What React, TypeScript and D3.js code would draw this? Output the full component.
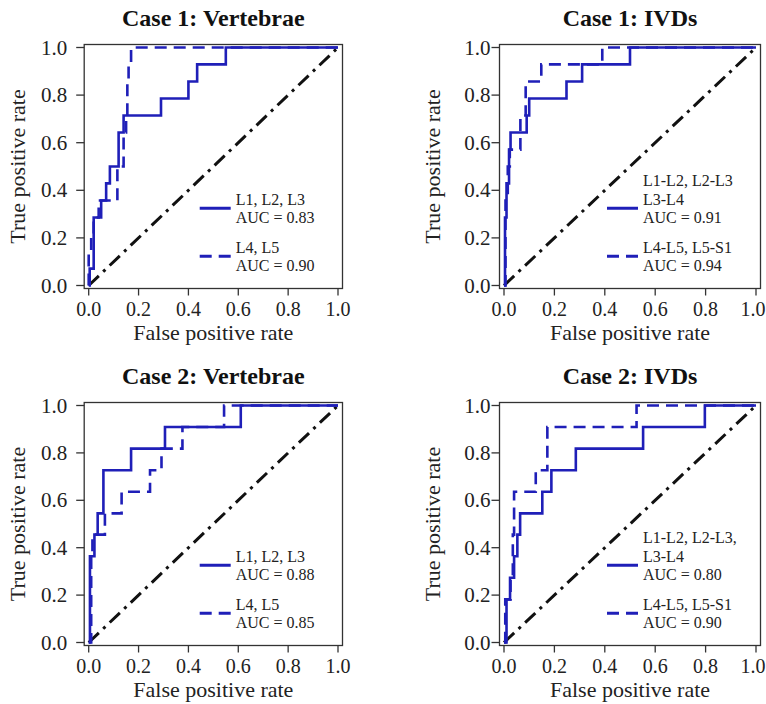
import * as d3 from "d3";

// ROC points [false positive rate, true positive rate]
const c1VertSolid = [[0, 0], [0.004, 0.071], [0.02, 0.286], [0.05, 0.357], [0.07, 0.429], [0.085, 0.5], [0.12, 0.643], [0.14, 0.714], [0.29, 0.786], [0.4, 0.857], [0.435, 0.929], [0.55, 1], [1, 1]];
const c1VertDashed = [[0, 0], [0, 0.143], [0.01, 0.214], [0.02, 0.286], [0.04, 0.357], [0.115, 0.5], [0.14, 0.643], [0.15, 0.714], [0.155, 0.857], [0.16, 0.929], [0.17, 1], [1, 1]];
const c1IvdSolid = [[0, 0], [0.004, 0.286], [0.01, 0.429], [0.02, 0.571], [0.026, 0.643], [0.09, 0.714], [0.1, 0.786], [0.248, 0.857], [0.31, 0.929], [0.5, 1], [1, 1]];
const c1IvdDashed = [[0, 0], [0.006, 0.357], [0.015, 0.5], [0.023, 0.571], [0.065, 0.714], [0.086, 0.857], [0.148, 0.929], [0.39, 1], [1, 1]];
const c2VertSolid = [[0, 0], [0.005, 0.364], [0.023, 0.455], [0.036, 0.545], [0.059, 0.727], [0.17, 0.818], [0.306, 0.909], [0.61, 1], [1, 1]];
const c2VertDashed = [[0, 0], [0.01, 0.364], [0.015, 0.455], [0.065, 0.545], [0.132, 0.636], [0.246, 0.727], [0.292, 0.818], [0.376, 0.909], [0.543, 1], [1, 1]];
const c2IvdSolid = [[0, 0], [0.01, 0.182], [0.024, 0.273], [0.04, 0.364], [0.053, 0.455], [0.064, 0.545], [0.152, 0.636], [0.188, 0.727], [0.285, 0.818], [0.552, 0.909], [0.797, 1], [1, 1]];
const c2IvdDashed = [[0, 0], [0.005, 0.182], [0.026, 0.273], [0.035, 0.455], [0.04, 0.636], [0.126, 0.727], [0.172, 0.909], [0.526, 1], [1, 1]];

const titles = ["Case 1: Vertebrae", "Case 1: IVDs", "Case 2: Vertebrae", "Case 2: IVDs"];
const vertLegend1 = [["L1, L2, L3", "AUC = 0.83"], ["L4, L5", "AUC = 0.90"]];
const ivdLegend1 = [["L1-L2, L2-L3", "L3-L4", "AUC = 0.91"], ["L4-L5, L5-S1", "AUC = 0.94"]];
const vertLegend2 = [["L1, L2, L3", "AUC = 0.88"], ["L4, L5", "AUC = 0.85"]];
const ivdLegend2 = [["L1-L2, L2-L3,", "L3-L4", "AUC = 0.80"], ["L4-L5, L5-S1", "AUC = 0.90"]];

const ticks = [0, 0.2, 0.4, 0.6, 0.8, 1.0];
const tickLabels = ["0.0", "0.2", "0.4", "0.6", "0.8", "1.0"];

const BLUE = "#1f1fb8";
const FONT = "'Liberation Serif', 'Times New Roman', serif";
const W = 766, H = 704;

function Panel({ x0, top, w, h, title, solid, dashed, legend, yGap, legX }) {
  const xs = d3.scaleLinear().domain([0, 1]).range([x0, x0 + w]);
  const ys = d3.scaleLinear().domain([0, 1]).range([top + h, top]);
  const line = d3.line().x(d => xs(d[0])).y(d => ys(d[1])).curve(d3.curveStepAfter);
  const diag = d3.line().x(d => xs(d[0])).y(d => ys(d[1]));

  const boxL = xs(0) - 4.5, boxR = xs(1) + 4.5, boxT = ys(1) - 3, boxB = ys(0) + 3;

  // legend rows, laid out from the bottom of the plot
  const lh = 18.5;
  const tx = x0 + legX;
  const entryLast = [ys(0) - 68, ys(0) - 20];
  const legendItems = legend.map((lines, i) => {
    const ysLines = lines.map((_, j) => entryLast[i] - (lines.length - 1 - j) * lh);
    const sampleY = (ysLines[ysLines.length - 1] + ysLines[ysLines.length - 2]) / 2;
    return { lines, ysLines, sampleY, dashedLine: i === 1 };
  });

  return (
    <g fontFamily={FONT}>
      <text x={(boxL + boxR) / 2} y={ys(1) - 22} textAnchor="middle" fontSize={24} fontWeight="bold" fill="#111">{title}</text>
      <rect x={boxL} y={boxT} width={boxR - boxL} height={boxB - boxT} fill="none" stroke="#333" strokeWidth={1.3} />
      {ticks.map((t, i) => (
        <g key={"x" + i}>
          <line x1={xs(t)} x2={xs(t)} y1={boxB} y2={boxB + 7} stroke="#333" strokeWidth={1.3} />
          <text x={Math.min(xs(t), W - 13)} y={ys(0) + 30} textAnchor="middle" fontSize={20} fill="#222">{tickLabels[i]}</text>
        </g>
      ))}
      {ticks.map((t, i) => (
        <g key={"y" + i}>
          <line x1={boxL - 8} x2={boxL} y1={ys(t)} y2={ys(t)} stroke="#333" strokeWidth={1.3} />
          <text x={boxL - yGap} y={ys(t) + 7} textAnchor="end" fontSize={21} fill="#222">{tickLabels[i]}</text>
        </g>
      ))}
      <text x={xs(0.5)} y={ys(0) + 54} textAnchor="middle" fontSize={22} fill="#222">False positive rate</text>
      <text transform={`translate(${x0 - 64},${ys(0.5)}) rotate(-90)`} textAnchor="middle" fontSize={22} fill="#222">True positive rate</text>

      <path d={diag([[0, 0], [1, 1]])} fill="none" stroke="#111" strokeWidth={3} strokeDasharray="14,6,3,6" />
      <path d={line(solid)} fill="none" stroke={BLUE} strokeWidth={2.6} />
      <path d={line(dashed)} fill="none" stroke={BLUE} strokeWidth={2.6} strokeDasharray="12,7" />

      {legendItems.map((it, i) => (
        <g key={"l" + i}>
          <line x1={tx - 36} x2={tx - 5} y1={it.sampleY} y2={it.sampleY} stroke={BLUE} strokeWidth={3}
            strokeDasharray={it.dashedLine ? "12,7" : undefined} />
          {it.lines.map((s, j) => (
            <text key={j} x={tx} y={it.ysLines[j] + 5.5} fontSize={16} fill="#222">{s}</text>
          ))}
        </g>
      ))}
    </g>
  );
}

const App = () => {
  const colX = [88.7, 504];
  const colW = [249.3, 252];
  const rowTop = [47.5, 405.5];
  const rowH = [238, 237];
  const yGap = [17, 9];
  const legX = [147, 139];
  const curves = [
    [c1VertSolid, c1VertDashed, vertLegend1],
    [c1IvdSolid, c1IvdDashed, ivdLegend1],
    [c2VertSolid, c2VertDashed, vertLegend2],
    [c2IvdSolid, c2IvdDashed, ivdLegend2],
  ];

  return (
    <svg width={W} height={H} style={{ position: "absolute", left: 0, top: 0, background: "#fff" }}>
      {curves.map((c, i) => {
        const col = i % 2, row = Math.floor(i / 2);
        return (
          <Panel key={i} x0={colX[col]} top={rowTop[row]} w={colW[col]} h={rowH[row]}
            title={titles[i]} solid={c[0]} dashed={c[1]} legend={c[2]} yGap={yGap[col]} legX={legX[col]} />
        );
      })}
    </svg>
  );
};

export default App;
